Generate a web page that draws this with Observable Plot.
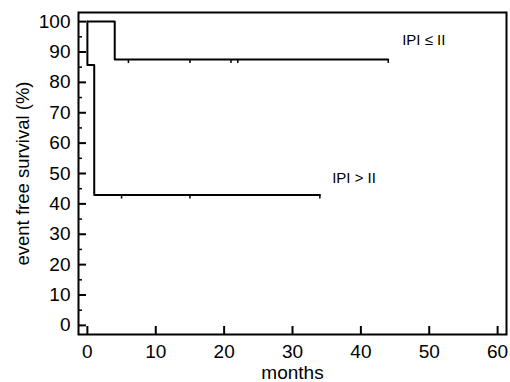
<!DOCTYPE html>
<html>
<head>
<meta charset="utf-8">
<script src="https://cdn.jsdelivr.net/npm/d3@7"></script>
<script src="https://cdn.jsdelivr.net/npm/@observablehq/plot@0.6"></script>
<style>
  html, body { margin: 0; padding: 0; background: #fff; }
  #chart svg { display: block; }
</style>
</head>
<body>
<div id="chart"></div>
<script>
// Kaplan–Meier step data (months, survival %)
const groups = ["IPI ≤ II", "IPI > II"];
const lowMonths = [0, 4, 44];
const lowSurvival = [100, 87.5, 87.5];
const highMonths = [0, 0, 1, 34];
const highSurvival = [100, 85.7, 42.9, 42.9];
// censoring marks
const lowCensorMonths = [6, 15, 21, 22, 44];
const highCensorMonths = [5, 15, 34];
// axes
const xTicks = [0, 10, 20, 30, 40, 50, 60];
const yTicks = [0, 10, 20, 30, 40, 50, 60, 70, 80, 90, 100];
const yMinorTicks = [5, 15, 25, 35, 45, 55, 65, 75, 85, 95];
const xLabel = "months";
const yLabel = "event free survival (%)";
// annotation labels
const labelText = ["IPI ≤ II", "IPI > II"];
const labelMonth = [49.2, 39.0];
const labelSurv = [93.8, 48.4];

const lowData = lowMonths.map((m, i) => ({month: m, surv: lowSurvival[i], group: groups[0]}));
const highData = highMonths.map((m, i) => ({month: m, surv: highSurvival[i], group: groups[1]}));
const censor = [
  ...lowCensorMonths.map(m => ({month: m, surv: lowSurvival[lowSurvival.length - 1]})),
  ...highCensorMonths.map(m => ({month: m, surv: highSurvival[highSurvival.length - 1]}))
];
const labels = labelText.map((t, i) => ({text: t, month: labelMonth[i], surv: labelSurv[i]}));

const W = 510, H = 382;
const mL = 78, mR = 4, mT = 12, mB = 48;
const plotW = W - mL - mR, plotH = H - mT - mB;
const font = "Liberation Sans, Arial, sans-serif";

const chart = Plot.plot({
  width: W,
  height: H,
  marginLeft: mL,
  marginRight: mR,
  marginTop: mT,
  marginBottom: mB,
  style: {fontFamily: font, background: "#fff", color: "#000"},
  x: {domain: [-1.3, 61.3]},
  y: {domain: [-3, 103]},
  marks: [
    // tick labels
    Plot.axisX(xTicks, {tickSize: 0, tickPadding: 9.5, fontSize: 19, label: null, tickFormat: d => String(d)}),
    Plot.axisY(yTicks, {tickSize: 0, tickPadding: 8, fontSize: 19, label: null, tickFormat: d => String(d)}),
    // inward ticks
    Plot.tickX(xTicks, {x: d => d, insetTop: plotH - 8, strokeWidth: 2, stroke: "#000"}),
    Plot.tickY(yTicks, {y: d => d, insetRight: plotW - 8, strokeWidth: 2, stroke: "#000"}),
    Plot.tickY(yMinorTicks, {y: d => d, insetRight: plotW - 4, strokeWidth: 1.5, stroke: "#000"}),
    // curves
    Plot.line(lowData, {x: "month", y: "surv", curve: "step-after", stroke: "#000", strokeWidth: 2}),
    Plot.line(highData, {x: "month", y: "surv", curve: "step-after", stroke: "#000", strokeWidth: 2}),
    // censor marks (short downward ticks)
    Plot.ruleX(censor, {x: "month", y1: "surv", y2: "surv", insetTop: 0, insetBottom: -4, stroke: "#000", strokeWidth: 1.5}),
    // annotations
    Plot.text(labels, {x: "month", y: "surv", text: "text", fontSize: 15, textAnchor: "middle"}),
    // axis titles
    Plot.text([xLabel], {frameAnchor: "bottom", dy: 38.5, fontSize: 19, textAnchor: "middle", lineAnchor: "middle"}),
    Plot.text([yLabel], {frameAnchor: "left", dx: -55, rotate: -90, fontSize: 18.5, textAnchor: "middle", lineAnchor: "middle"}),
    Plot.frame({stroke: "#000", strokeWidth: 2})
  ]
});
document.getElementById("chart").appendChild(chart);
</script>
</body>
</html>
